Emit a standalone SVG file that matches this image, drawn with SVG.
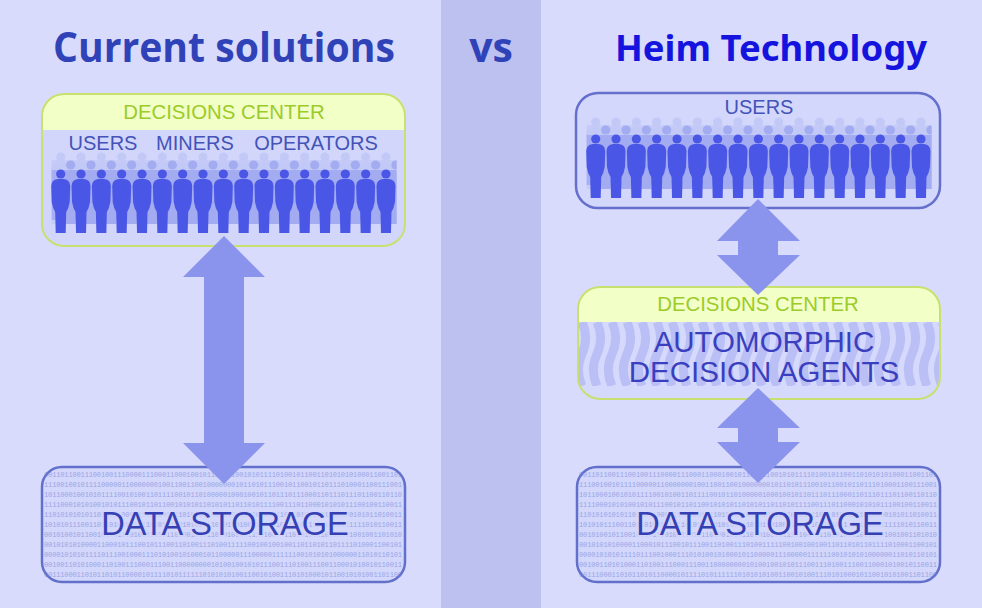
<svg xmlns="http://www.w3.org/2000/svg" width="982" height="608" viewBox="0 0 982 608">
<style>
.t{font-family:"Liberation Sans",Arial,sans-serif;text-anchor:middle}
.lab{fill:#4353b8;font-size:20px}
.green{fill:#9ccb2a;font-size:20.400px}
.big{fill:#3540b4;font-size:32.500px;stroke:#d3d7fb;stroke-width:5px;stroke-opacity:.75;paint-order:stroke}
.bits{font-family:"Liberation Mono",monospace;font-size:7px;fill:#7583d8;opacity:.6}
.arrow{fill:#8a94ec}
</style>
<defs>
<clipPath id="cc"><rect x="-10" y="-30" width="346" height="100"/></clipPath>
<g id="p"><circle cx="0" cy="0" r="4.600"/><path d="M-3 5Q-9.500 6-9.500 12L-9 28Q-8 34-5.500 38L-5 59H5L5.500 38Q8 34 9 28L9.500 12Q9.500 6 3 5Z"/></g>
<g id="row"><use href="#p" x="0"/><use href="#p" x="20.330"/><use href="#p" x="40.660"/><use href="#p" x="60.990"/><use href="#p" x="81.320"/><use href="#p" x="101.650"/><use href="#p" x="121.980"/><use href="#p" x="142.310"/><use href="#p" x="162.640"/><use href="#p" x="182.970"/><use href="#p" x="203.300"/><use href="#p" x="223.630"/><use href="#p" x="243.960"/><use href="#p" x="264.290"/><use href="#p" x="284.620"/><use href="#p" x="304.950"/><use href="#p" x="325.280"/></g>
<g id="crowd">
<rect x="-9" y="-14" width="344" height="64" fill="#c6cbf7"/>
<use href="#row" y="-17" fill="#c3c9f6"/>
<rect x="-9" y="-4" width="344" height="50" fill="#a0a8f2" opacity=".8"/>
<g clip-path="url(#cc)"><use href="#row" y="-9" x="10" fill="#a3abf1"/></g>
<use href="#row" fill="#4a57e6"/>
</g>
<g id="bits" class="bits">
<text x="44" y="477" textLength="358">0011011001110010011100001110001100010010110101100101011110100101100110101010100011001101</text>
<text x="44" y="487" textLength="358">1110010010111100000110000000100110011001000000010110101110010110010110111010001100111001</text>
<text x="44" y="497" textLength="358">1011000100101011110010100110111100101101000001000100101101110111000110111011101100110110</text>
<text x="44" y="507" textLength="358">1111000101010010101110010110110010101011010101101101011110011101100010101011100100110011</text>
<text x="44" y="517" textLength="358">1101010101011010011000111001101011010101100101011101010101100101011101010000101011010011</text>
<text x="44" y="527" textLength="358">1010101110011011010010101101011100101010110101101001110101001010011001010111111010110011</text>
<text x="44" y="537" textLength="358">0010100101100101101110100110101101001010110101001011101001011010100110111001001001101010</text>
<text x="44" y="547" textLength="358">0010101010000110001011100101110011010011101001111100100100100110110101101111010001100101</text>
<text x="44" y="557" textLength="358">0000101010111101110010001110101001010001011000001110000011111100101010100000011010110101</text>
<text x="44" y="567" textLength="358">0010011010100011010011100011100110000000010100100101011100111010011100110001010010110011</text>
<text x="44" y="577" textLength="358">0011100011010110101100001011110101111110101010100110010100111010100010110010101001101100</text>
</g>
<pattern id="wave" x="578" y="322" width="15" height="64" patternUnits="userSpaceOnUse">
<path d="M4 0C9 11 9 21 4 32C-1 43-1 53 4 64" fill="none" stroke="#bac0f6" stroke-width="9"/>
<path d="M19 0C24 11 24 21 19 32C14 43 14 53 19 64" fill="none" stroke="#bac0f6" stroke-width="9"/>
<path d="M-11 0C-6 11-6 21-11 32C-16 43-16 53-11 64" fill="none" stroke="#bac0f6" stroke-width="9"/>
</pattern>
<clipPath id="c1"><rect x="42" y="94" width="363" height="152" rx="22"/></clipPath>
<clipPath id="c2"><rect x="578" y="287" width="362" height="112" rx="22"/></clipPath>
</defs>
<rect width="982" height="608" fill="#d8dbfb"/>
<rect x="441" width="100" height="608" fill="#bcc1f0"/>
<g id="titles">
<text class="t" x="224" y="62" style="font-family:'Open Sans','Liberation Sans',sans-serif;font-weight:700;font-size:41px;fill:#3042b8" textLength="342" lengthAdjust="spacingAndGlyphs">Current solutions</text>
<text class="t" x="491" y="62" style="font-family:'Open Sans','Liberation Sans',sans-serif;font-weight:700;font-size:41px;fill:#3042b8">vs</text>
<text class="t" x="771" y="61" style="font-family:'Noto Sans','Liberation Sans',sans-serif;font-weight:700;font-size:36px;fill:#1414de" textLength="312" lengthAdjust="spacingAndGlyphs">Heim Technology</text>
</g>
<g id="left-decisions">
<rect x="42" y="94" width="363" height="152" rx="22" fill="#f2ffc6"/>
<g clip-path="url(#c1)"><rect x="42" y="130" width="363" height="116" fill="#d2d6fb"/></g>
<rect x="42" y="94" width="363" height="152" rx="22" fill="none" stroke="#c8e070" stroke-width="2"/>
<text class="t green" x="224" y="119">DECISIONS CENTER</text>
<text class="t lab" x="103" y="150">USERS</text>
<text class="t lab" x="195" y="150">MINERS</text>
<text class="t lab" x="316" y="150">OPERATORS</text>
<use href="#crowd" x="60.700" y="174"/>
</g>
<g id="left-storage">
<rect x="42" y="467" width="363" height="115" rx="20" fill="#d3d7fb" stroke="#6270cc" stroke-width="2.500"/>
<use href="#bits"/>
<text class="t big" x="225" y="535">DATA STORAGE</text>
</g>
<g id="right-users">
<rect x="576" y="93" width="364" height="115" rx="22" fill="#d3d7fb" stroke="#6470cc" stroke-width="2.500"/>
<text class="t lab" x="759" y="114">USERS</text>
<use href="#crowd" x="595.700" y="139"/>
</g>
<g id="right-decisions">
<rect x="578" y="287" width="362" height="112" rx="22" fill="#f2ffc6"/>
<g clip-path="url(#c2)"><rect x="578" y="322" width="362" height="77" fill="#d5d9fb"/><rect x="578" y="322" width="362" height="64" fill="url(#wave)"/></g>
<rect x="578" y="287" width="362" height="112" rx="22" fill="none" stroke="#c8e070" stroke-width="2"/>
<text class="t green" x="758" y="311">DECISIONS CENTER</text>
<text class="t" x="764" y="352" style="fill:#3a3fc0;font-size:29.500px">AUTOMORPHIC</text>
<text class="t" x="764" y="382" style="fill:#3a3fc0;font-size:29.500px">DECISION AGENTS</text>
</g>
<g id="right-storage">
<rect x="577" y="467" width="363" height="115" rx="20" fill="#d3d7fb" stroke="#6270cc" stroke-width="2.500"/>
<use href="#bits" x="535"/>
<text class="t big" x="760" y="535">DATA STORAGE</text>
</g>
<g id="connectors">
<path class="arrow" d="M224 236L265 277H244V443H265L224 484L183 443H204V277H183Z"/>
<path class="arrow" d="M758 199L800 241H778V255H800L758 295L717 255H738V241H717Z"/>
<path class="arrow" d="M758 388L800 428H778V442H800L758 483L717 442H738V428H717Z"/>
</g>
</svg>
